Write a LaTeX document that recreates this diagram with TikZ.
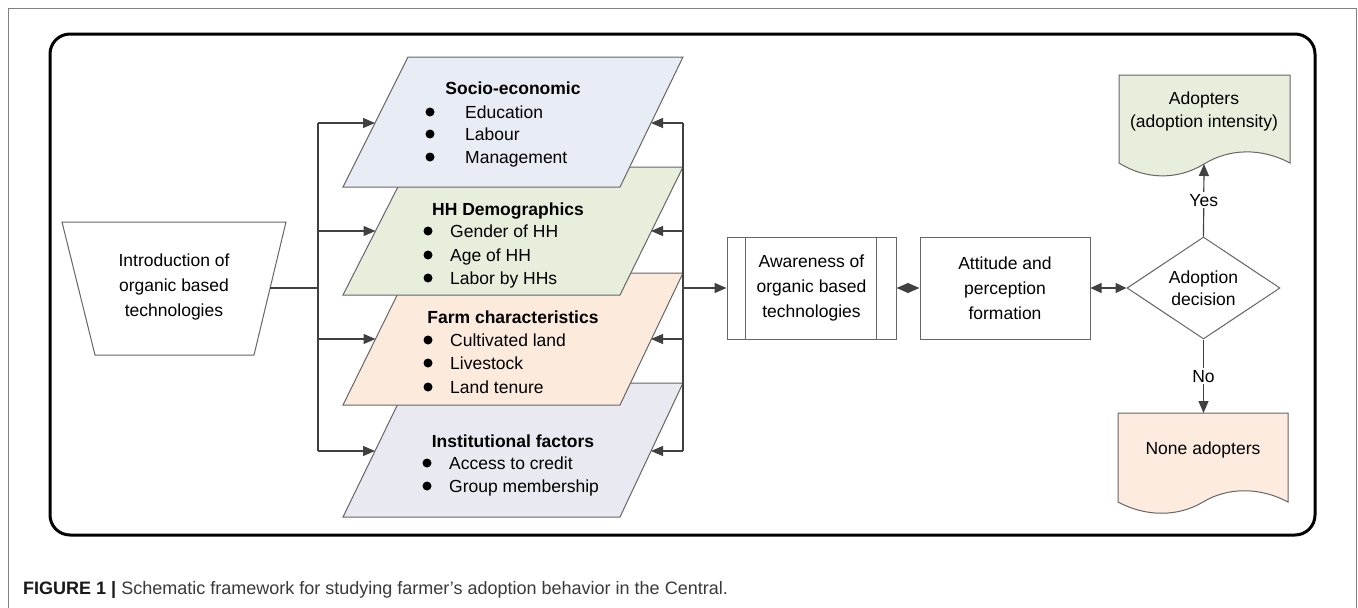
\documentclass[tikz,border=0pt]{standalone}
\usepackage{fontspec}
\setmainfont{Liberation Sans}
\usetikzlibrary{shapes.geometric,arrows.meta,calc}
\definecolor{cSocio}{HTML}{E8ECF4}
\definecolor{cHH}{HTML}{E7EEDC}
\definecolor{cFarm}{HTML}{FCEBDD}
\definecolor{cInst}{HTML}{E9E9F1}
\definecolor{cAdopt}{HTML}{E8EEDC}
\definecolor{cNone}{HTML}{FCEBDE}
\definecolor{capgray}{HTML}{3A3A3A}
\begin{document}
\begin{tikzpicture}[x=1pt,y=-1pt,
  conn/.style={draw=black!75, line width=1.2pt},
  arr/.style={conn,-{Triangle[length=12pt,width=10pt]}},
  shp/.style={draw=black!60, line width=1pt},
  txt/.style={font=\fontsize{17.5}{25}\selectfont, align=center, inner sep=0},
  txtb/.style={font=\fontsize{17.5}{22.5}\selectfont, align=center, inner sep=0},
  itm/.style={font=\fontsize{17.5}{22}\selectfont, anchor=base west, inner sep=0},
  ttl/.style={font=\bfseries\fontsize{17.5}{22}\selectfont, anchor=base, inner sep=0},
  bul/.style={fill=black},
  box/.style={shp, txt, minimum height=102pt},
  lbl/.style={fill=white, inner sep=2pt, font=\fontsize{17.5}{22}\selectfont}
]
\useasboundingbox (0,0) rectangle (1358,608);
\fill[white] (0,0) rectangle (1358,608);
\draw[black!50, line width=1pt] (8,608) -- (8,8) -- (1356,8) -- (1356,608);
\draw[line width=3pt, rounded corners=20pt] (50,34) rectangle (1315,535);

% introduction trapezoid
\filldraw[shp, fill=white] (62,222) -- (286,222) -- (254,355) -- (95,355) -- cycle;
\node[txt] (intro) at (174,287) {Introduction of\\organic based\\technologies};

% parallelograms (back to front)
\filldraw[shp, fill=cInst] (408,383) -- (683,383) -- (620,517) -- (343,517) -- cycle;
\filldraw[shp, fill=cFarm] (408,273) -- (683,273) -- (620,405) -- (343,405) -- cycle;
\filldraw[shp, fill=cHH] (408,167) -- (683,167) -- (620,295) -- (343,295) -- cycle;
\filldraw[shp, fill=cSocio] (408,57) -- (683,57) -- (620,187) -- (343,187) -- cycle;

% Socio-economic
\node[ttl] (soT) at (513,94.5) {Socio-economic};
\fill[bul] (430,112) circle (4.5pt);
\fill[bul] (430,134) circle (4.5pt);
\fill[bul] (430,157) circle (4.5pt);
\node[itm] (so1) at (465,118.5) {Education};
\node[itm] (so2) at (465,140.5) {Labour};
\node[itm] (so3) at (465,163.5) {Management};

% HH Demographics
\node[ttl] (hhT) at (508,215.5) {HH Demographics};
\fill[bul] (428,231) circle (4.5pt);
\fill[bul] (428,255) circle (4.5pt);
\fill[bul] (428,278) circle (4.5pt);
\node[itm] (hh1) at (450,237.5) {Gender of HH};
\node[itm] (hh2) at (450,261.5) {Age of HH};
\node[itm] (hh3) at (450,284.5) {Labor by HHs};

% Farm characteristics
\node[ttl] (fmT) at (513,323.5) {Farm characteristics};
\fill[bul] (428,340) circle (4.5pt);
\fill[bul] (428,363) circle (4.5pt);
\fill[bul] (428,387) circle (4.5pt);
\node[itm] (fm1) at (450,346.5) {Cultivated land};
\node[itm] (fm2) at (450,369.5) {Livestock};
\node[itm] (fm3) at (450,393.5) {Land tenure};

% Institutional factors
\node[ttl] (inT) at (513,447.5) {Institutional factors};
\fill[bul] (427,463) circle (4.5pt);
\fill[bul] (427,486) circle (4.5pt);
\node[itm] (in1) at (449,469.5) {Access to credit};
\node[itm] (in2) at (449,492.5) {Group membership};

% connector coordinates
\coordinate (inR) at (270,288);
\coordinate (busLm) at (318,288);
\coordinate (busLt) at (318,123);
\coordinate (busLh) at (318,231);
\coordinate (busLf) at (318,339);
\coordinate (busLb) at (318,451);
\coordinate (soL) at (375,123);
\coordinate (hhL) at (375.5,231);
\coordinate (fmL) at (375.5,339);
\coordinate (inL) at (375,451);
\coordinate (busRt) at (683,123);
\coordinate (busRh) at (683,231);
\coordinate (busRm) at (683,288);
\coordinate (busRf) at (683,339);
\coordinate (busRb) at (683,451);
\coordinate (soR) at (651,123);
\coordinate (hhR) at (651,231);
\coordinate (fmR) at (651,339);
\coordinate (inR2) at (651,451);

\draw[conn] (inR) -- (busLm);
\draw[conn] (busLt) -- (busLb);
\draw[arr] (busLt) -- (soL);
\draw[arr] (busLh) -- (hhL);
\draw[arr] (busLf) -- (fmL);
\draw[arr] (busLb) -- (inL);
\draw[conn] (busRt) -- (busRb);
\draw[arr] (busRt) -- (soR);
\draw[arr] (busRh) -- (hhR);
\draw[arr] (busRf) -- (fmR);
\draw[arr] (busRb) -- (inR2);

% awareness, attitude, decision
\node[box, minimum width=169pt] (aw) at (811.5,288) {Awareness of\\organic based\\technologies};
\draw[shp] ([xshift=19pt]aw.north west) -- ([xshift=19pt]aw.south west);
\draw[shp] ([xshift=-20.5pt]aw.north east) -- ([xshift=-20.5pt]aw.south east);
\node[box, minimum width=170pt] (att) at (1005,288) {Attitude and\\perception\\formation};
\node[diamond, shp, txtb, aspect=1.5, minimum width=153pt, minimum height=102pt] (dec) at (1203.5,288) {Adoption\\decision};

\draw[arr] (busRm) -- (aw.west);
\draw[conn, {Triangle[length=12pt,width=10pt]}-{Triangle[length=12pt,width=10pt]}] (aw.east) -- (att.west);
\draw[conn, {Triangle[length=11pt,width=10pt]}-{Triangle[length=11pt,width=10pt]}] (att.east) -- (dec.west);

% documents
\filldraw[shp, fill=cAdopt] (1119,75) -- (1290,75) -- (1290,163) .. controls (1262,148) and (1230,148) .. (1204,164) .. controls (1178,180) and (1146,180) .. (1119,163) -- cycle;
\node[txtb] (adopt) at (1204,111.5) {Adopters\\(adoption intensity)};
\coordinate (adB) at (1204,164);
\filldraw[shp, fill=cNone] (1118,413) -- (1288,413) -- (1288,502) .. controls (1260,487) and (1228,487) .. (1203,502) .. controls (1178,517) and (1146,517) .. (1118,502) -- cycle;
\node[txtb] (none) at (1203,450) {None adopters};
\coordinate (noT) at (1203.5,413);

\draw[arr] (dec.north) -- node[lbl] (yes) {Yes} (adB);
\draw[arr] (dec.south) -- node[lbl] (no) {No} (noT);

% caption
\node[anchor=base west, inner sep=0, font=\fontsize{18}{20}\selectfont, text=capgray] (cap) at (23,594.5) {\textcolor{black!90}{\textbf{FIGURE 1 |}} Schematic framework for studying farmer’s adoption behavior in the Central.};
\end{tikzpicture}
\end{document}
